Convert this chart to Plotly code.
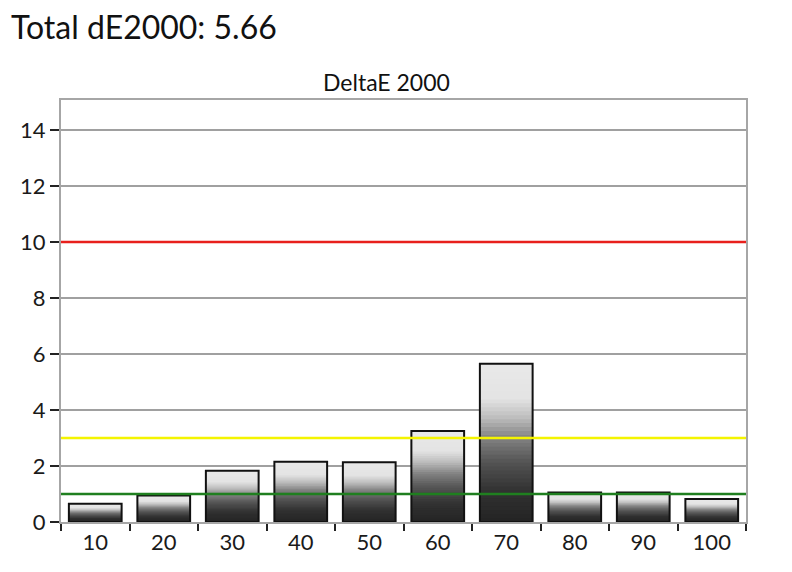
import plotly.graph_objects as go
import numpy as np

categories = ["10", "20", "30", "40", "50", "60", "70", "80", "90", "100"]
delta_e = [0.65, 0.95, 1.83, 2.15, 2.13, 3.25, 5.65, 1.05, 1.05, 0.82]
threshold_values = [10, 3, 1]
threshold_colors = ["#e8201c", "#f4f400", "#1f7f1f"]
total_label = "Total dE2000: 5.66"
chart_title = "DeltaE 2000"

FONT = "Lato, 'Open Sans', sans-serif"

# gradient stops: fraction from top -> grey level
stops_f = [0.0, 0.22, 0.34, 0.47, 0.62, 0.8, 1.0]
stops_g = [233, 228, 190, 130, 85, 50, 36]

N = 40
fig = go.Figure()
vals = np.array(delta_e)
# draw full-height bars from tallest to shortest so there are no seams
for k in range(N):
    frac = (N - k) / N          # height fraction of this layer
    f_top = 1 - frac + 0.5 / N  # position from top of the layer's top edge
    g = int(np.interp(f_top, stops_f, stops_g))
    fig.add_trace(go.Bar(
        x=categories, y=vals * frac,
        marker=dict(color=f"rgb({g},{g},{g})", line=dict(width=0)),
        width=0.77, hoverinfo="skip", showlegend=False))

fig.add_trace(go.Bar(
    x=categories, y=delta_e,
    marker=dict(color="rgba(0,0,0,0)", line=dict(color="#111111", width=2)),
    width=0.77, showlegend=False))

for v, c in zip(threshold_values, threshold_colors):
    fig.add_shape(type="line", xref="paper", yref="y", x0=0, x1=1, y0=v, y1=v,
                  line=dict(color=c, width=2.5), layer="above")

fig.update_layout(
    width=792, height=572,
    margin=dict(l=49, r=54, t=92, b=58),
    barmode="overlay",
    plot_bgcolor="white", paper_bgcolor="white",
    font=dict(family=FONT, color="#1a1a1a"),
    xaxis=dict(
        type="category", tickson="boundaries", ticks="outside", ticklen=7,
        tickwidth=2, tickcolor="#222222",
        showline=True, linecolor="#a6a6a6", linewidth=2, mirror=True,
        showgrid=False, tickfont=dict(size=22, family=FONT, color="#1a1a1a"),
        range=[-0.5, 9.5],
    ),
    yaxis=dict(
        range=[0, 15.07], tickvals=[0, 2, 4, 6, 8, 10, 12, 14],
        ticks="outside", ticklen=9, tickwidth=2, tickcolor="#222222",
        showline=True, linecolor="#a6a6a6", linewidth=2, mirror=True,
        showgrid=True, gridcolor="#a0a0a0", gridwidth=2,
        zeroline=False, tickfont=dict(size=22, family=FONT, color="#1a1a1a"),
    ),
    annotations=[
        dict(text=total_label, xref="paper", yref="paper", x=0, y=1,
             xanchor="left", yanchor="bottom", showarrow=False,
             font=dict(size=32, family=FONT, color="#111111"),
             xshift=-52, yshift=52),
        dict(text=chart_title, xref="paper", yref="paper", x=0.5, y=1,
             xanchor="center", yanchor="bottom", showarrow=False,
             font=dict(size=23, family=FONT, color="#111111"),
             xshift=-17, yshift=2),
    ],
)

fig.write_html("out.html")
